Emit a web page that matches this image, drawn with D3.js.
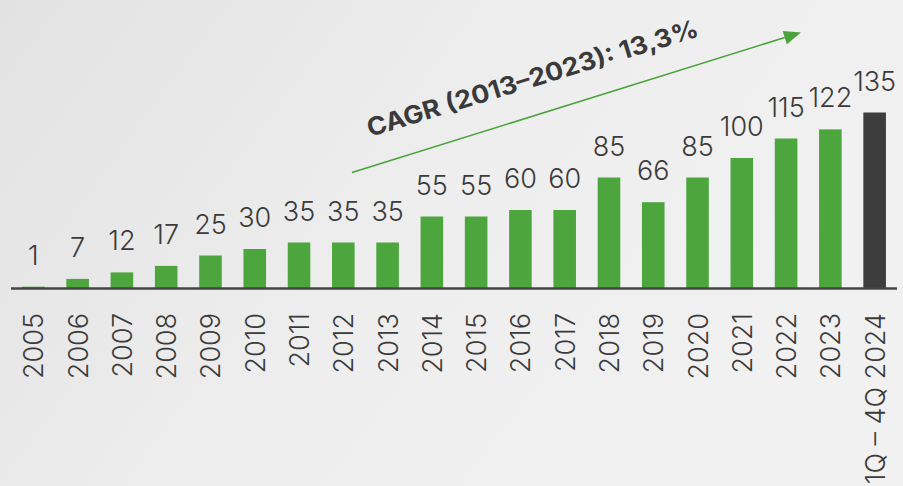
<!DOCTYPE html>
<html>
<head>
<meta charset="utf-8">
<script src="https://cdn.jsdelivr.net/npm/d3@7"></script>
<style>
  html, body { margin: 0; padding: 0; }
  body { width: 903px; height: 486px; overflow: hidden; }
  svg { display: block; font-family: "Inter", "Roboto", sans-serif; }
</style>
</head>
<body>
<div id="chart"></div>
<script>
// Dados
const years = ['2005', '2006', '2007', '2008', '2009', '2010', '2011', '2012', '2013', '2014',
  '2015', '2016', '2017', '2018', '2019', '2020', '2021', '2022', '2023', '1Q – 4Q 2024'];
const values = [1, 7, 12, 17, 25, 30, 35, 35, 35, 55, 55, 60, 60, 85, 66, 85, 100, 115, 122, 135];
const cagrLabel = 'CAGR (2013–2023): 13,3%';

const width = 903, height = 486;
const baseY = 288;

const svg = d3.select('#chart').append('svg')
  .attr('width', width)
  .attr('height', height);

// Fundo com gradiente
const defs = svg.append('defs');
const bg = defs.append('linearGradient')
  .attr('id', 'bg')
  .attr('x1', '0%').attr('y1', '0%')
  .attr('x2', '100%').attr('y2', '40%');
bg.append('stop').attr('offset', '0%').attr('stop-color', '#e2e2e2');
bg.append('stop').attr('offset', '55%').attr('stop-color', '#eeeeee');
bg.append('stop').attr('offset', '100%').attr('stop-color', '#f1f1f1');

svg.append('rect')
  .attr('width', width)
  .attr('height', height)
  .attr('fill', 'url(#bg)');

// Escalas
const x = d3.scaleBand()
  .domain(years)
  .range([11, 897])
  .paddingInner(0.49)
  .paddingOuter(0.25);

const y = d3.scaleLinear()
  .domain([0, 135])
  .range([baseY, baseY - 175.5]);

// Barras
svg.selectAll('.bar')
  .data(values)
  .enter()
  .append('rect')
  .attr('class', 'bar')
  .attr('x', (d, i) => x(years[i]))
  .attr('width', x.bandwidth())
  .attr('y', d => y(d))
  .attr('height', d => baseY - y(d))
  .attr('fill', (d, i) => i === values.length - 1 ? '#3d3d3d' : '#4da63d');

// Rótulos de valor
svg.selectAll('.value')
  .data(values)
  .enter()
  .append('text')
  .attr('class', 'value')
  .attr('x', (d, i) => x(years[i]) + x.bandwidth() / 2)
  .attr('y', d => y(d) - 22)
  .attr('text-anchor', 'middle')
  .style('font-size', '27px')
  .style('font-weight', 300)
  .style('fill', '#3b3b3b')
  .text(d => d);

// Linha de base
svg.append('line')
  .attr('x1', 11).attr('x2', 897)
  .attr('y1', baseY + 0.5).attr('y2', baseY + 0.5)
  .attr('stroke', '#444')
  .attr('stroke-width', 2.5);

// Rótulos do eixo x (rotacionados)
svg.selectAll('.year')
  .data(years)
  .enter()
  .append('text')
  .attr('class', 'year')
  .attr('transform', d => `translate(${x(d) + x.bandwidth() / 2 + 10},313) rotate(-90)`)
  .attr('text-anchor', 'end')
  .style('font-size', '27px')
  .style('font-weight', 300)
  .style('fill', '#3b3b3b')
  .text(d => d);

// Seta CAGR
const ax1 = 352, ay1 = 172.5, ax2 = 801, ay2 = 32.5;
const ang = Math.atan2(ay2 - ay1, ax2 - ax1);
const headLen = 17, headHalf = 7;
svg.append('line')
  .attr('x1', ax1).attr('y1', ay1)
  .attr('x2', ax2 - headLen * Math.cos(ang)).attr('y2', ay2 - headLen * Math.sin(ang))
  .attr('stroke', '#4aa23a')
  .attr('stroke-width', 1.6);
svg.append('path')
  .attr('transform', `translate(${ax2},${ay2}) rotate(${ang * 180 / Math.PI})`)
  .attr('d', `M0,0 L${-headLen},${-headHalf} L${-headLen},${headHalf} Z`)
  .attr('fill', '#4aa23a');

// Texto CAGR
svg.append('text')
  .attr('transform', 'translate(370,137) rotate(-17)')
  .attr('textLength', 345)
  .attr('lengthAdjust', 'spacingAndGlyphs')
  .style('font-size', '25px')
  .style('font-weight', 700)
  .style('fill', '#3a3a3a')
  .text(cagrLabel);
</script>
</body>
</html>
